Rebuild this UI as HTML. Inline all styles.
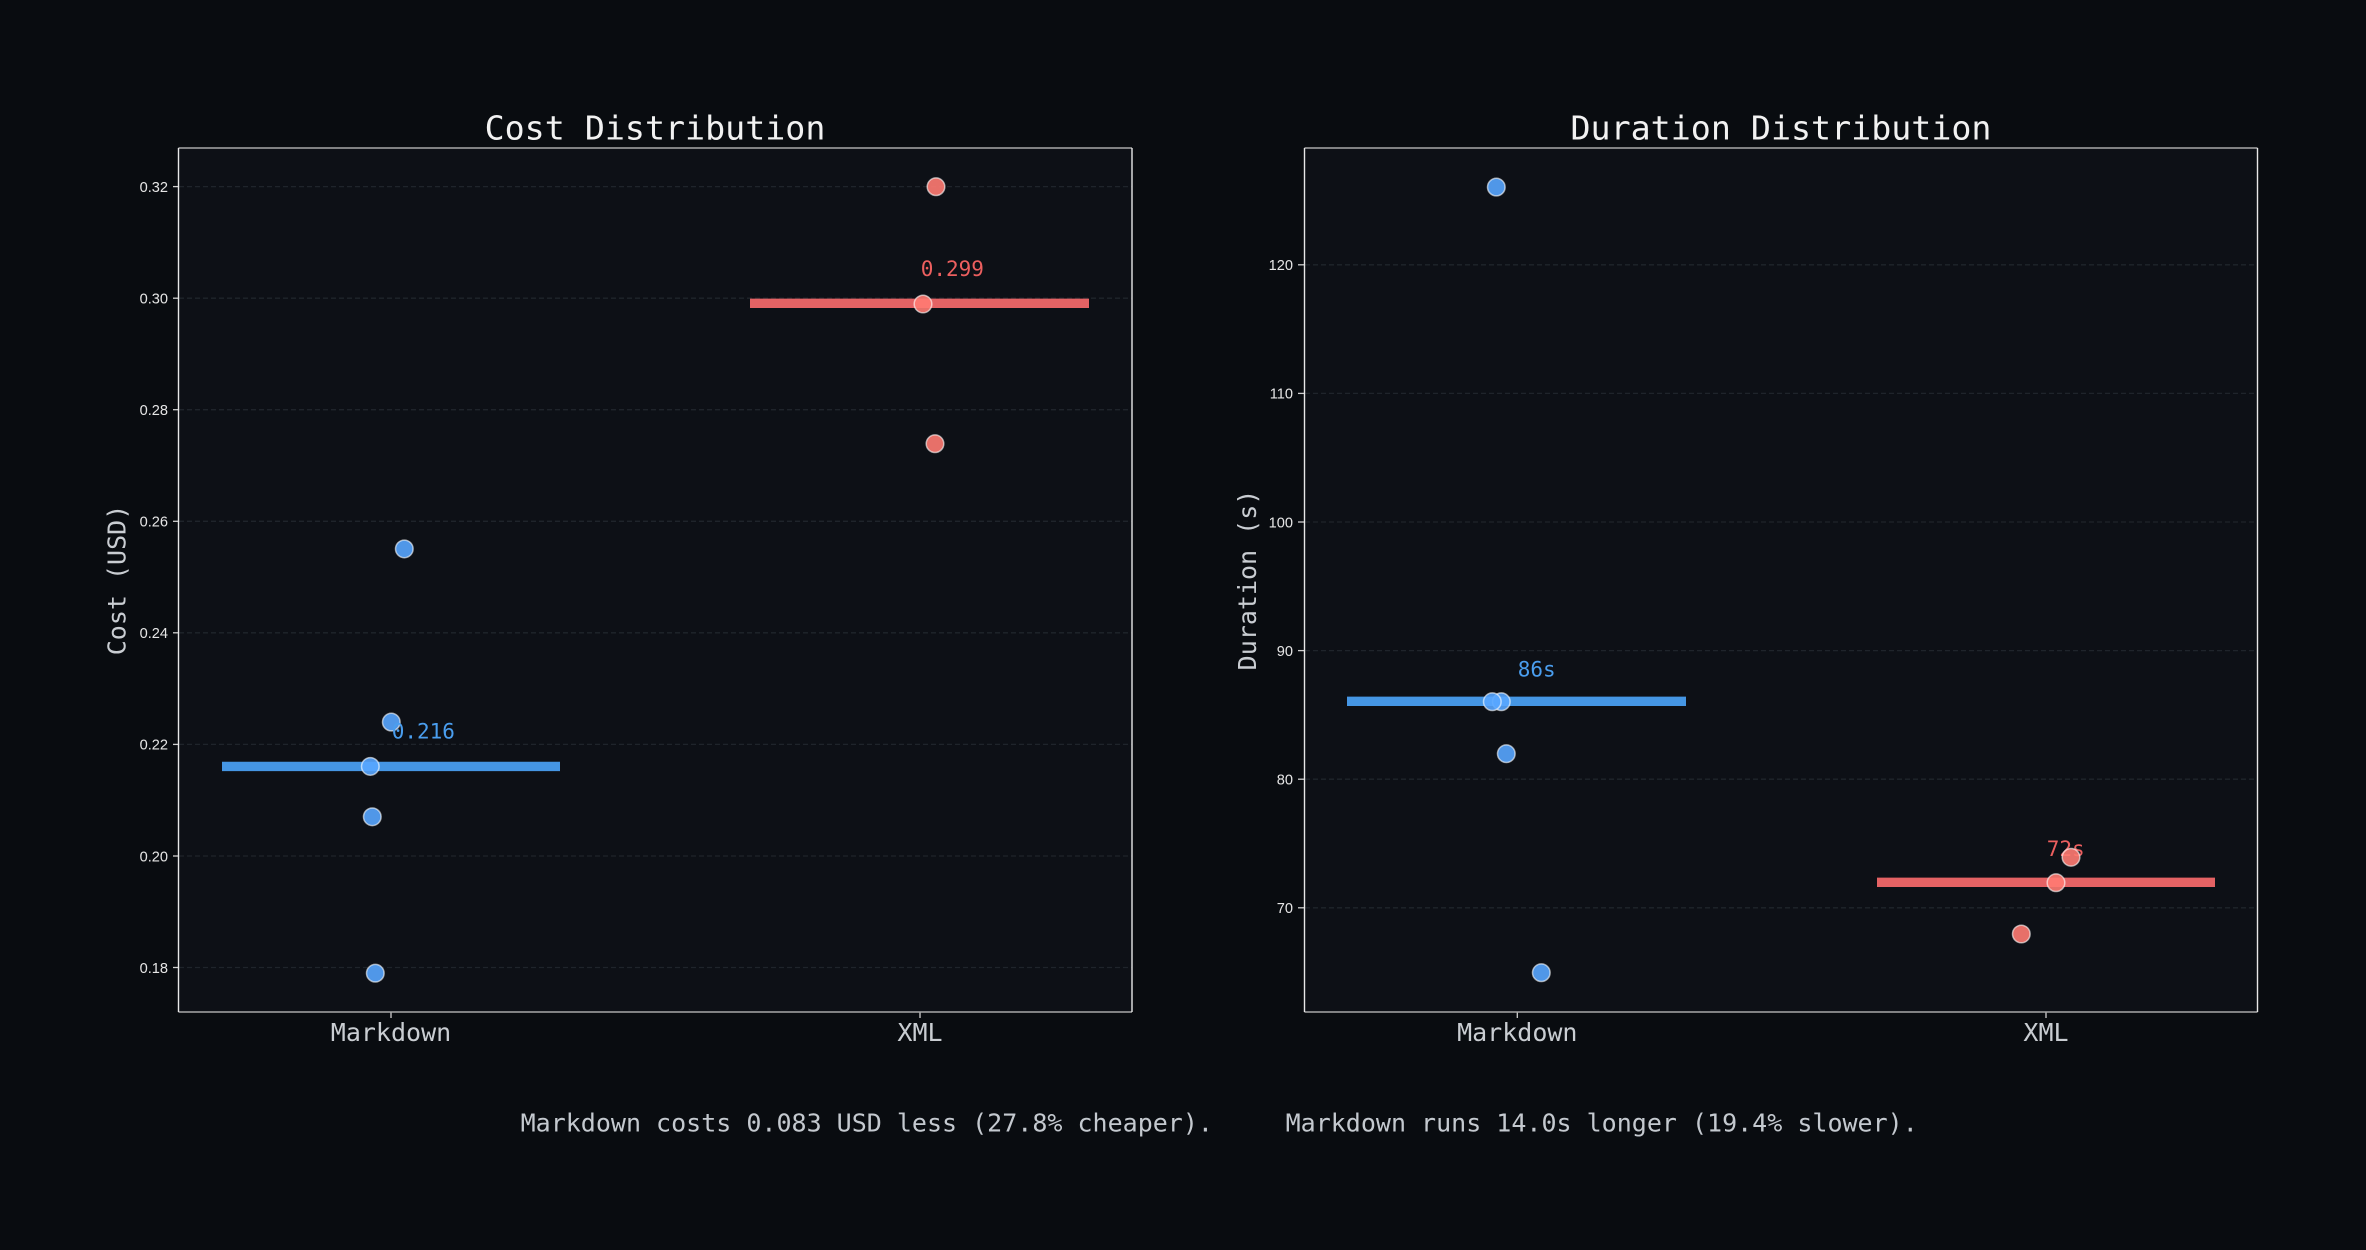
<!DOCTYPE html>
<html>
<head>
<meta charset="utf-8">
<style>
html,body{margin:0;padding:0;background:#090c10;}
svg{display:block;}
.mono{font-family:"DejaVu Sans Mono","Liberation Mono",monospace;}
.tick{font-family:"Liberation Sans","DejaVu Sans",sans-serif;font-size:14.6px;fill:#e6e6e6;}
</style>
</head>
<body>
<svg width="2366" height="1250" viewBox="0 0 2366 1250" xmlns="http://www.w3.org/2000/svg">
  <rect x="0" y="0" width="2366" height="1250" fill="#090c10"/>

  <!-- ===================== COST PANEL ===================== -->
  <rect x="178.5" y="148" width="953.5" height="864" fill="#0d1016"/>
  <g stroke="#1f242b" stroke-width="1.3" stroke-dasharray="5 3">
    <line x1="179" x2="1132" y1="186.6" y2="186.6"/>
    <line x1="179" x2="1132" y1="298.2" y2="298.2"/>
    <line x1="179" x2="1132" y1="409.7" y2="409.7"/>
    <line x1="179" x2="1132" y1="521.3" y2="521.3"/>
    <line x1="179" x2="1132" y1="632.8" y2="632.8"/>
    <line x1="179" x2="1132" y1="744.4" y2="744.4"/>
    <line x1="179" x2="1132" y1="856.0" y2="856.0"/>
    <line x1="179" x2="1132" y1="967.5" y2="967.5"/>
  </g>
  <g stroke="#cfcfcf" stroke-width="1.3">
    <line x1="173" x2="178.5" y1="186.6" y2="186.6"/>
    <line x1="173" x2="178.5" y1="298.2" y2="298.2"/>
    <line x1="173" x2="178.5" y1="409.7" y2="409.7"/>
    <line x1="173" x2="178.5" y1="521.3" y2="521.3"/>
    <line x1="173" x2="178.5" y1="632.8" y2="632.8"/>
    <line x1="173" x2="178.5" y1="744.4" y2="744.4"/>
    <line x1="173" x2="178.5" y1="856.0" y2="856.0"/>
    <line x1="173" x2="178.5" y1="967.5" y2="967.5"/>
    <line x1="391" x2="391" y1="1012" y2="1018"/>
    <line x1="920" x2="920" y1="1012" y2="1018"/>
  </g>
  <g class="tick" text-anchor="end">
    <text x="168" y="191.9">0.32</text>
    <text x="168" y="303.5">0.30</text>
    <text x="168" y="415.0">0.28</text>
    <text x="168" y="526.6">0.26</text>
    <text x="168" y="638.1">0.24</text>
    <text x="168" y="749.7">0.22</text>
    <text x="168" y="861.3">0.20</text>
    <text x="168" y="972.8">0.18</text>
  </g>
  <line x1="222" x2="560" y1="766.4" y2="766.4" stroke="#4596e4" stroke-width="9.4"/>
  <line x1="750" x2="1089" y1="303.3" y2="303.3" stroke="#e46264" stroke-width="9.4"/>
  <g fill="#58a6ff" fill-opacity="0.9" stroke="#ffffff" stroke-opacity="0.6" stroke-width="1.5">
    <circle cx="404.3" cy="548.9" r="8.8"/>
    <circle cx="391.3" cy="722.1" r="8.8"/>
    <circle cx="370.3" cy="766.4" r="8.8"/>
    <circle cx="372.3" cy="816.8" r="8.8"/>
    <circle cx="375.3" cy="973.2" r="8.8"/>
  </g>
  <g fill="#ff7b72" fill-opacity="0.9" stroke="#ffffff" stroke-opacity="0.6" stroke-width="1.5">
    <circle cx="936" cy="186.7" r="8.8"/>
    <circle cx="923" cy="304" r="8.8"/>
    <circle cx="935" cy="443.7" r="8.8"/>
  </g>
  <text class="mono" x="391.7" y="738.6" font-size="21" fill="#4a9eef">0.216</text>
  <text class="mono" x="920.7" y="276" font-size="21" fill="#ec5f5f">0.299</text>
  <line x1="178.5" x2="1132" y1="148" y2="148" stroke="#a8a8a8" stroke-width="1.6"/>
  <line x1="178.5" x2="1132" y1="1012" y2="1012" stroke="#a8a8a8" stroke-width="1.6"/>
  <line x1="178.5" x2="178.5" y1="148" y2="1012" stroke="#e8e8e8" stroke-width="1.4"/>
  <line x1="1132" x2="1132" y1="148" y2="1012" stroke="#e8e8e8" stroke-width="1.4"/>
  <text class="mono" x="655" y="139.3" font-size="33.3" fill="#f2f2f2" text-anchor="middle">Cost Distribution</text>
  <text class="mono" x="391" y="1041" font-size="25" fill="#c9cdd2" text-anchor="middle">Markdown</text>
  <text class="mono" x="920" y="1041" font-size="25" fill="#c9cdd2" text-anchor="middle">XML</text>
  <text class="mono" transform="translate(125.5,580) rotate(-90)" font-size="25" fill="#c9cdd2" text-anchor="middle">Cost (USD)</text>

  <!-- ===================== DURATION PANEL ===================== -->
  <rect x="1304.5" y="148" width="953" height="864" fill="#0d1016"/>
  <g stroke="#1f242b" stroke-width="1.3" stroke-dasharray="5 3">
    <line x1="1305" x2="2257" y1="264.8" y2="264.8"/>
    <line x1="1305" x2="2257" y1="393.4" y2="393.4"/>
    <line x1="1305" x2="2257" y1="522.0" y2="522.0"/>
    <line x1="1305" x2="2257" y1="650.6" y2="650.6"/>
    <line x1="1305" x2="2257" y1="779.2" y2="779.2"/>
    <line x1="1305" x2="2257" y1="907.8" y2="907.8"/>
  </g>
  <g stroke="#cfcfcf" stroke-width="1.3">
    <line x1="1298" x2="1304.5" y1="264.8" y2="264.8"/>
    <line x1="1298" x2="1304.5" y1="393.4" y2="393.4"/>
    <line x1="1298" x2="1304.5" y1="522.0" y2="522.0"/>
    <line x1="1298" x2="1304.5" y1="650.6" y2="650.6"/>
    <line x1="1298" x2="1304.5" y1="779.2" y2="779.2"/>
    <line x1="1298" x2="1304.5" y1="907.8" y2="907.8"/>
    <line x1="1517.3" x2="1517.3" y1="1012" y2="1018"/>
    <line x1="2046" x2="2046" y1="1012" y2="1018"/>
  </g>
  <g class="tick" text-anchor="end">
    <text x="1293" y="270.1">120</text>
    <text x="1293" y="398.7">110</text>
    <text x="1293" y="527.3">100</text>
    <text x="1293" y="655.9">90</text>
    <text x="1293" y="784.5">80</text>
    <text x="1293" y="913.1">70</text>
  </g>
  <line x1="1347" x2="1686" y1="701.3" y2="701.3" stroke="#4596e4" stroke-width="9.4"/>
  <line x1="1877" x2="2215" y1="882.3" y2="882.3" stroke="#e46264" stroke-width="9.4"/>
  <g fill="#58a6ff" fill-opacity="0.9" stroke="#ffffff" stroke-opacity="0.6" stroke-width="1.5">
    <circle cx="1496.3" cy="187.1" r="8.8"/>
    <circle cx="1501.3" cy="701.7" r="8.8"/>
    <circle cx="1492.3" cy="701.7" r="8.8"/>
    <circle cx="1506.3" cy="753.7" r="8.8"/>
    <circle cx="1541.3" cy="972.7" r="8.8"/>
  </g>
  <text class="mono" x="1517.7" y="676.7" font-size="21" fill="#4a9eef">86s</text>
  <text class="mono" x="2046.7" y="856" font-size="21" fill="#ec5f5f">72s</text>
  <g fill="#ff7b72" fill-opacity="0.9" stroke="#ffffff" stroke-opacity="0.6" stroke-width="1.5">
    <circle cx="2071" cy="857.3" r="8.8"/>
    <circle cx="2056" cy="882.7" r="8.8"/>
    <circle cx="2021.3" cy="934" r="8.8"/>
  </g>
  <line x1="1304.5" x2="2257.5" y1="148" y2="148" stroke="#a8a8a8" stroke-width="1.6"/>
  <line x1="1304.5" x2="2257.5" y1="1012" y2="1012" stroke="#a8a8a8" stroke-width="1.6"/>
  <line x1="1304.5" x2="1304.5" y1="148" y2="1012" stroke="#e8e8e8" stroke-width="1.4"/>
  <line x1="2257.5" x2="2257.5" y1="148" y2="1012" stroke="#e8e8e8" stroke-width="1.4"/>
  <text class="mono" x="1781" y="139.3" font-size="33.3" fill="#f2f2f2" text-anchor="middle">Duration Distribution</text>
  <text class="mono" x="1517.3" y="1041" font-size="25" fill="#c9cdd2" text-anchor="middle">Markdown</text>
  <text class="mono" x="2046" y="1041" font-size="25" fill="#c9cdd2" text-anchor="middle">XML</text>
  <text class="mono" transform="translate(1256,580) rotate(-90)" font-size="25" fill="#c9cdd2" text-anchor="middle">Duration (s)</text>

  <!-- ===================== FOOTER ===================== -->
  <text class="mono" x="520.6" y="1131.7" font-size="25" fill="#c4c9cf">Markdown costs 0.083 USD less (27.8% cheaper).</text>
  <text class="mono" x="1285.6" y="1131.7" font-size="25" fill="#c4c9cf">Markdown runs 14.0s longer (19.4% slower).</text>
</svg>
</body>
</html>
